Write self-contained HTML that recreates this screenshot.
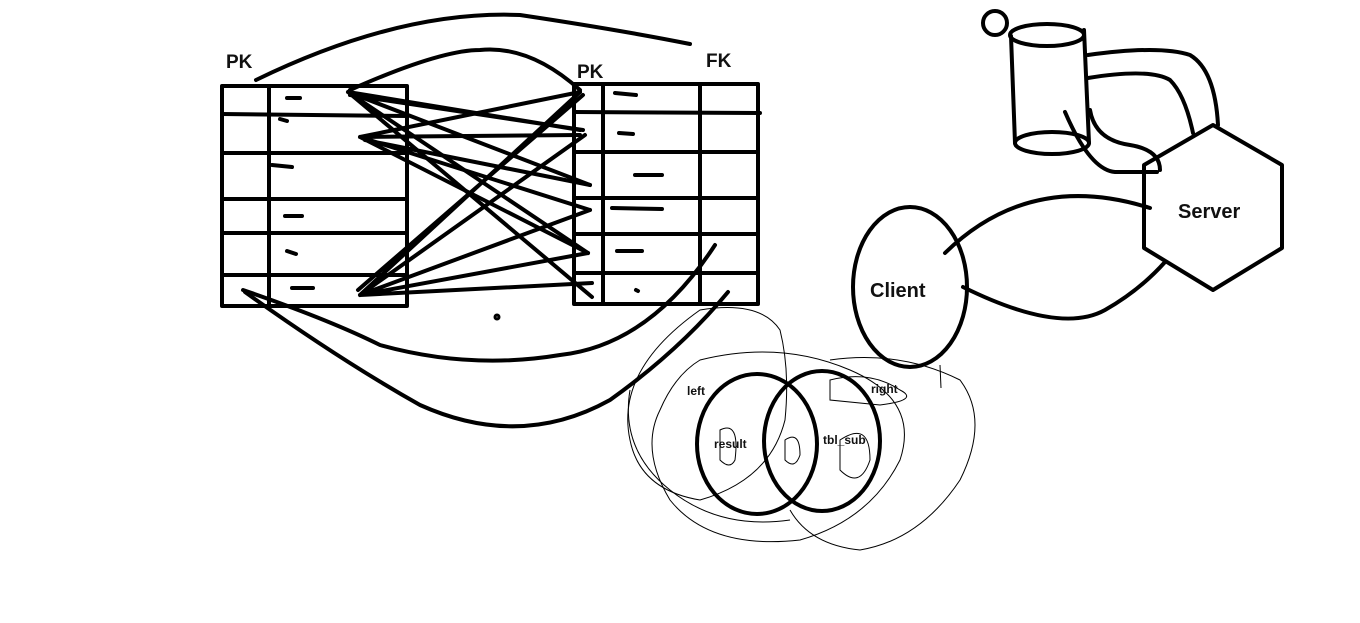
<!DOCTYPE html>
<html><head><meta charset="utf-8"><style>
html,body{margin:0;padding:0;background:#fff;width:1360px;height:623px;overflow:hidden}
svg{display:block}
text{font-family:"Liberation Sans",sans-serif;font-weight:bold;fill:#111}
</style></head><body>
<svg width="1360" height="623" viewBox="0 0 1360 623">
<g fill="none" stroke="#000" stroke-width="4" stroke-linecap="round" stroke-linejoin="round">
<!-- left table -->
<g>
<rect x="222" y="86" width="185" height="220"/>
<line x1="269" y1="86" x2="269" y2="306"/>
<line x1="222" y1="114" x2="407" y2="116"/>
<line x1="224" y1="153" x2="407" y2="153"/>
<line x1="222" y1="199" x2="407" y2="199"/>
<line x1="222" y1="233" x2="407" y2="233"/>
<line x1="222" y1="275" x2="407" y2="275"/>
<line x1="287" y1="98" x2="300" y2="98"/><line x1="280" y1="119" x2="287" y2="121"/>
<line x1="272" y1="165" x2="292" y2="167"/><line x1="285" y1="216" x2="302" y2="216"/>
<line x1="287" y1="251" x2="296" y2="254"/><line x1="292" y1="288" x2="313" y2="288"/>
</g>
<!-- right table -->
<g>
<rect x="574" y="84" width="184" height="220"/>
<line x1="603" y1="84" x2="603" y2="304"/>
<line x1="700" y1="84" x2="700" y2="304"/>
<line x1="574" y1="112" x2="760" y2="113"/>
<line x1="574" y1="152" x2="758" y2="152"/>
<line x1="574" y1="198" x2="758" y2="198"/>
<line x1="574" y1="234" x2="758" y2="234"/>
<line x1="574" y1="273" x2="758" y2="273"/>
<line x1="615" y1="93" x2="636" y2="95"/><line x1="619" y1="133" x2="633" y2="134"/>
<line x1="635" y1="175" x2="662" y2="175"/><line x1="612" y1="208" x2="662" y2="209"/>
<line x1="617" y1="251" x2="642" y2="251"/><line x1="636" y1="290" x2="638" y2="291"/>
</g>
<!-- connections -->
<g>
<path d="M348 92 L580 130 M348 92 L590 185 M348 92 L588 253 M348 92 L592 297 M350 95 L583 130"/>
<path d="M360 137 L580 92 M360 137 L580 135 M360 137 L590 210 M360 137 L588 253 M365 140 L590 185"/>
<path d="M360 295 L580 92 M360 295 L585 135 M360 295 L590 210 M360 295 L588 253 M360 295 L592 283 M358 290 L583 95"/>
<path d="M350 90 Q440 50 480 50 Q530 45 580 90"/>
<path d="M256 80 Q400 10 520 15 Q620 30 690 44"/>
<path d="M243 290 Q330 320 380 345 Q470 370 560 355 Q650 345 715 245"/>
<path d="M245 292 Q340 360 420 405 Q520 450 610 400 Q680 350 728 292"/>
<circle cx="497" cy="317" r="1.5"/>
</g>
<!-- client server -->
<g><ellipse cx="910" cy="287" rx="57" ry="80"/></g>
<g><polygon points="1213,125 1282,165 1282,248 1213,290 1144,248 1144,165"/></g>
<path d="M945 253 Q1030 170 1150 208 M963 287 Q1060 335 1105 310 Q1140 290 1165 262"/>
<g>
<circle cx="995" cy="23" r="12"/>
<ellipse cx="1047" cy="35" rx="37" ry="11"/>
<ellipse cx="1052" cy="143" rx="37" ry="11"/>
<line x1="1011" y1="36" x2="1015" y2="143"/><line x1="1084" y1="30" x2="1089" y2="143"/>
<path d="M1088 55 Q1160 45 1190 55 Q1215 70 1218 125 M1088 78 Q1150 68 1170 80 Q1185 95 1193 133 M1090 110 Q1095 140 1130 145 Q1160 150 1160 170 M1065 112 Q1090 170 1115 172 L1157 172"/>
</g>
<!-- venn -->
<g>
<ellipse cx="757" cy="444" rx="60" ry="70"/>
<ellipse cx="822" cy="441" rx="58" ry="70"/>
</g>
</g>
<g fill="none" stroke="#000" stroke-width="1">
<path d="M700 310 Q760 300 780 330 Q790 370 785 420 Q770 480 700 500 Q640 490 630 440 Q615 370 700 310Z"/>
<path d="M700 360 Q780 340 850 370 Q920 400 900 460 Q870 520 800 540 Q710 550 670 500 Q640 450 660 410 Q675 375 700 360Z"/>
<path d="M830 360 Q900 350 960 380 Q990 420 960 480 Q920 540 860 550 Q810 545 790 510"/>
<path d="M630 390 Q620 450 670 490 Q720 530 790 520"/>
<path d="M830 380 Q870 370 900 390 Q920 400 880 405 L830 400Z"/>
<path d="M840 440 Q870 420 870 460 Q860 490 840 470Z"/>
<path d="M720 430 Q740 420 735 460 Q730 470 720 460Z"/>
<path d="M785 440 Q800 430 800 455 Q795 470 785 460Z"/>
<line x1="940" y1="365" x2="941" y2="388"/>
</g>
<text x="226" y="68" font-size="19">PK</text>
<text x="577" y="78" font-size="19">PK</text>
<text x="706" y="67" font-size="19">FK</text>
<text x="870" y="297" font-size="20">Client</text>
<text x="1178" y="218" font-size="20">Server</text>
<text x="687" y="395" font-size="12">left</text>
<text x="714" y="448" font-size="12">result</text>
<text x="871" y="393" font-size="12">right</text>
<text x="823" y="444" font-size="12">tbl_sub</text>
</svg>
</body></html>
